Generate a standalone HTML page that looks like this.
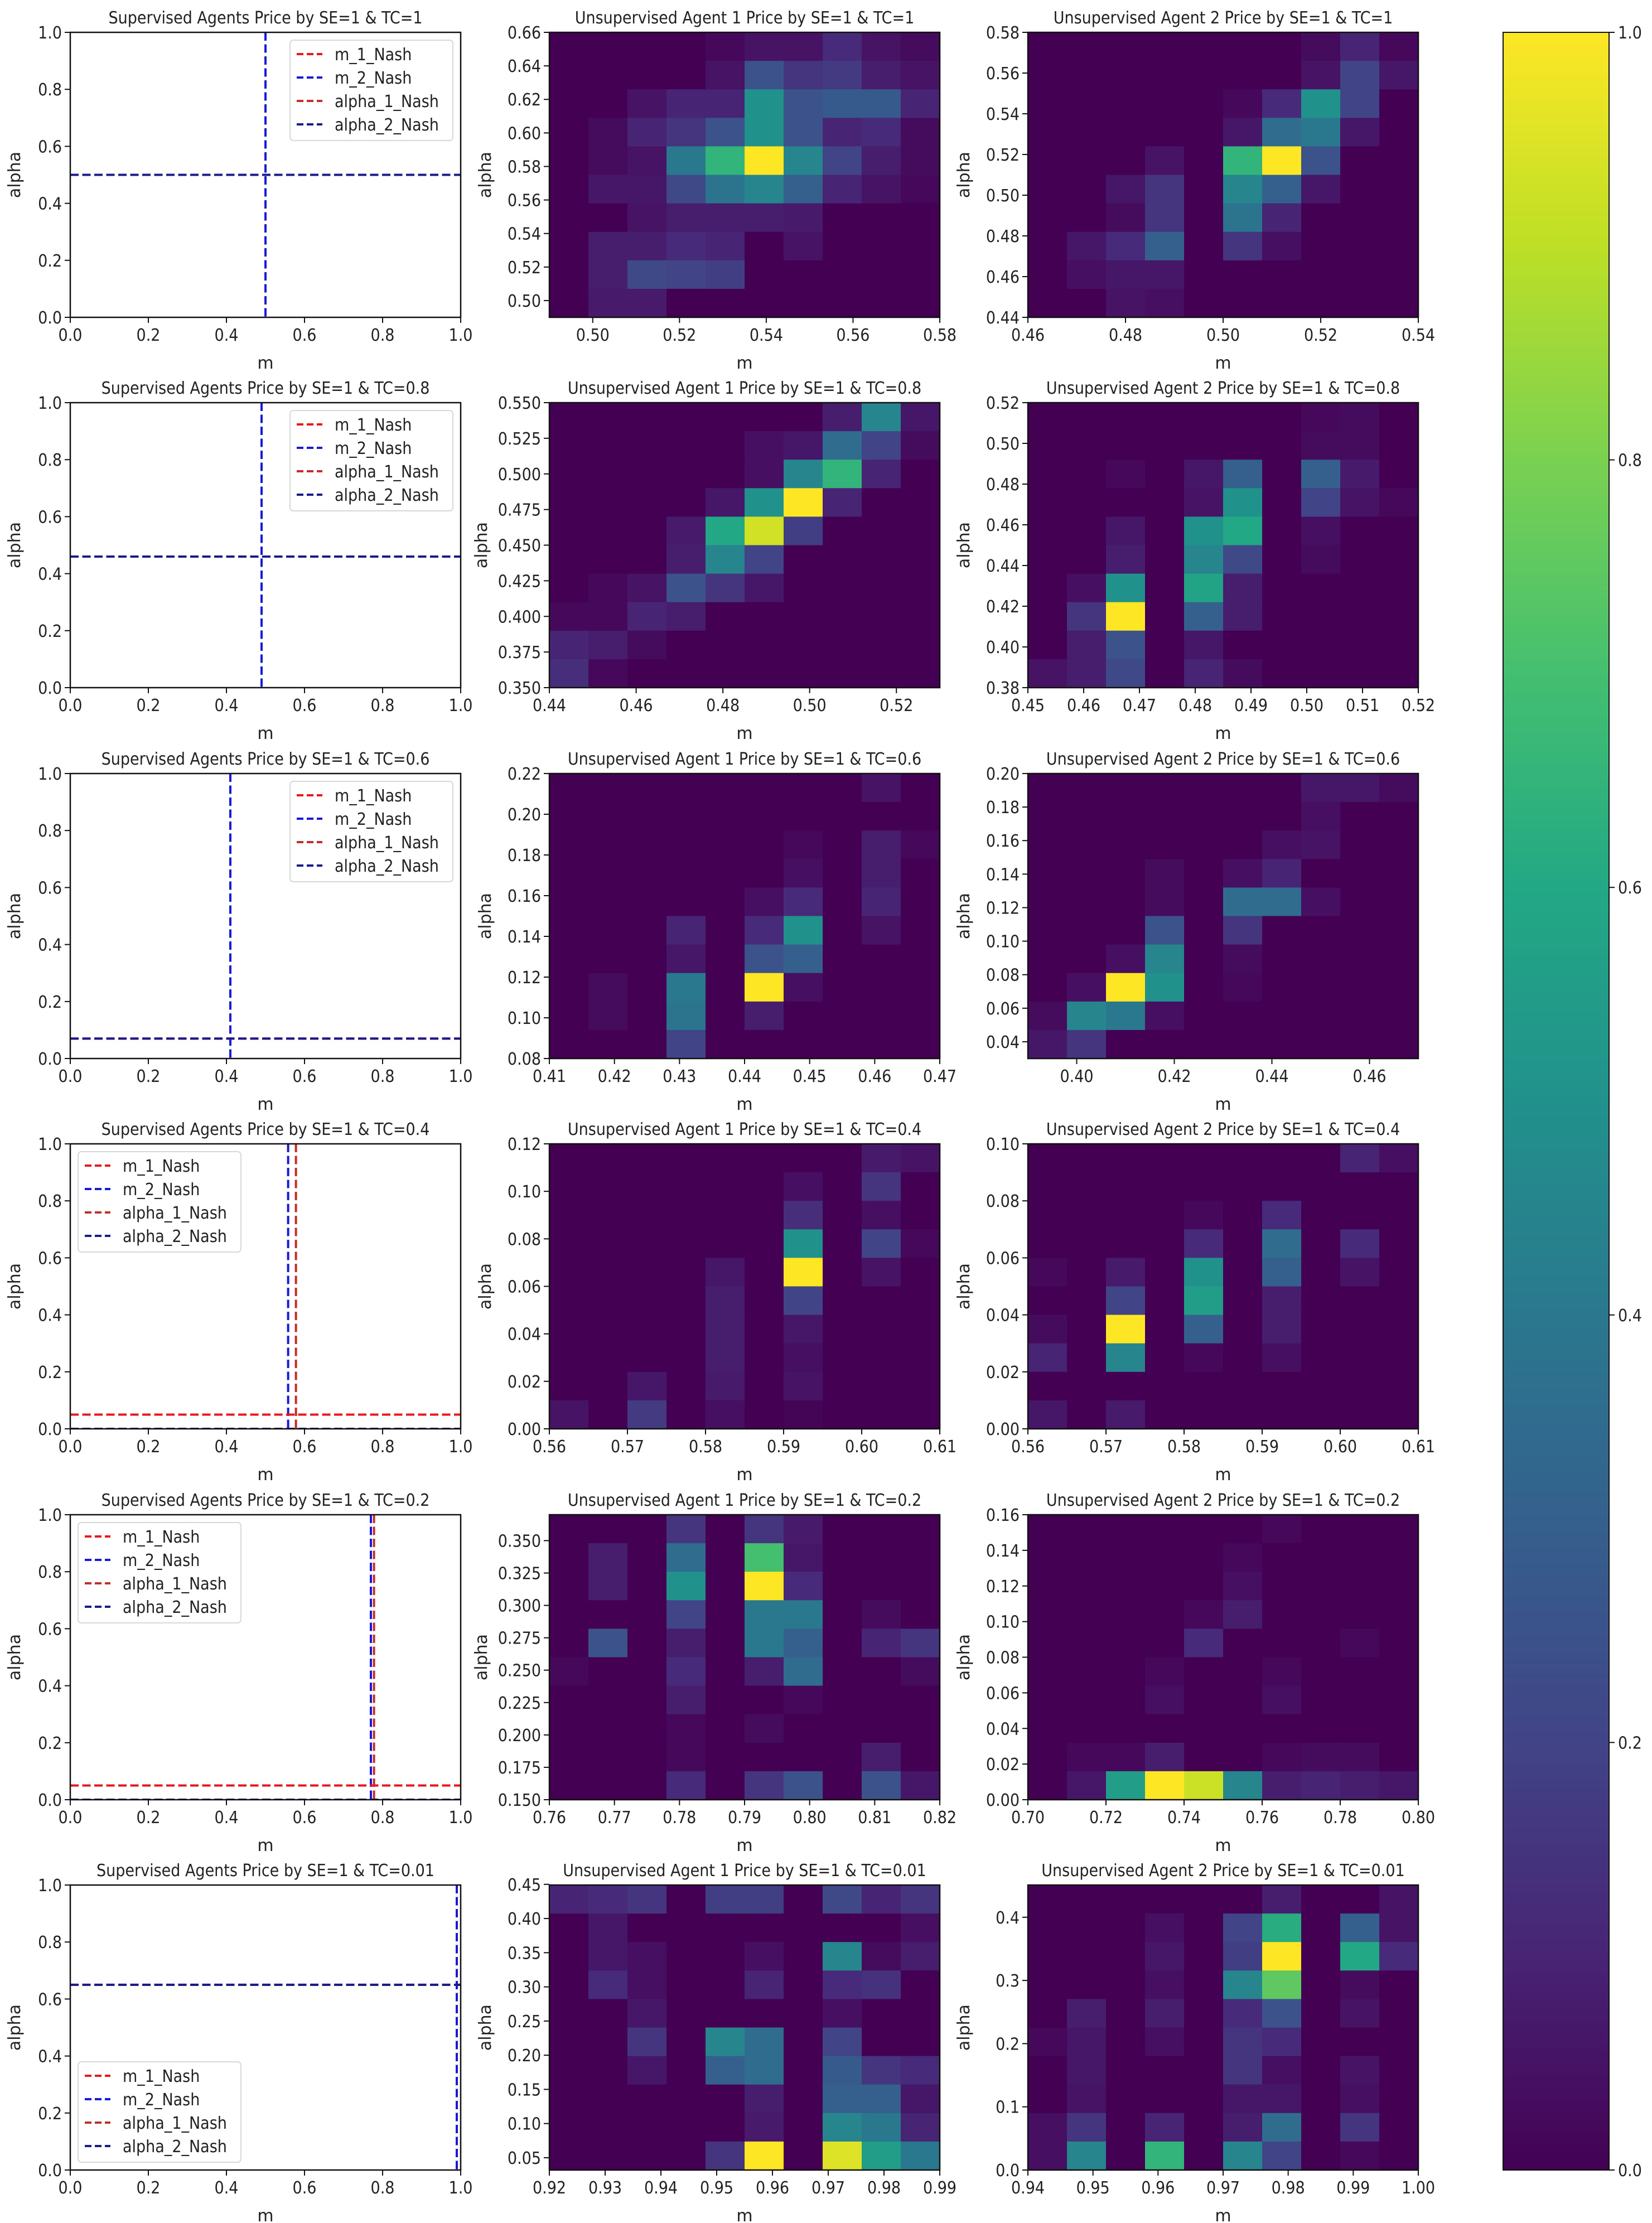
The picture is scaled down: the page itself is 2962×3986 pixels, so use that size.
<!DOCTYPE html>
<html><head><meta charset="utf-8"><title>Price heatmaps</title>
<style>
html,body{margin:0;padding:0;background:#fff;}
svg{display:block;}
.tk{font-family:"DejaVu Sans Condensed","DejaVu Sans","Liberation Sans",sans-serif;font-size:30px;fill:#222;}
.ttl{font-family:"DejaVu Sans Condensed","DejaVu Sans","Liberation Sans",sans-serif;font-size:30px;fill:#222;}
.lab{font-family:"DejaVu Sans","Liberation Sans",sans-serif;font-size:30px;fill:#222;}
</style></head>
<body>
<svg id="fig" xmlns="http://www.w3.org/2000/svg" width="2962" height="3986" viewBox="0 0 2962 3986">
<rect x="0" y="0" width="2962" height="3986" fill="#fff"/>
</svg>
<script>
// ---------- data ----------
const tcLabels = ["1","0.8","0.6","0.4","0.2","0.01"];

// supervised Nash lines: [m_1, m_2] verticals and [alpha_1, alpha_2] horizontals
const supM1 = [0.5, 0.49, 0.41, 0.578, 0.778, 0.99];
const supM2 = [0.5, 0.49, 0.41, 0.558, 0.770, 0.99];
const supA1 = [0.5, 0.46, 0.07, 0.05, 0.05, 0.65];
const supA2 = [0.5, 0.46, 0.07, 0.0, 0.0, 0.65];
const supLegendPos = ["ur","ur","ur","ul","ul","ll"];
const supTicks = [0.0,0.2,0.4,0.6,0.8,1.0];

// heatmap extents [xmin,xmax,ymin,ymax]
const h12_ext=[0.49,0.58,0.49,0.66], h13_ext=[0.46,0.54,0.44,0.58];
const h22_ext=[0.44,0.53,0.35,0.55], h23_ext=[0.45,0.52,0.38,0.52];
const h32_ext=[0.41,0.47,0.08,0.22], h33_ext=[0.39,0.47,0.03,0.20];
const h42_ext=[0.56,0.61,0.0,0.12],  h43_ext=[0.56,0.61,0.0,0.10];
const h52_ext=[0.76,0.82,0.15,0.37], h53_ext=[0.70,0.80,0.0,0.16];
const h62_ext=[0.92,0.99,0.032,0.449], h63_ext=[0.94,1.00,0.0,0.451];

// tick values
const h12_xt=[0.50,0.52,0.54,0.56,0.58], h12_yt=[0.50,0.52,0.54,0.56,0.58,0.60,0.62,0.64,0.66];
const h13_xt=[0.46,0.48,0.50,0.52,0.54], h13_yt=[0.44,0.46,0.48,0.50,0.52,0.54,0.56,0.58];
const h22_xt=[0.44,0.46,0.48,0.50,0.52], h22_yt=[0.350,0.375,0.400,0.425,0.450,0.475,0.500,0.525,0.550];
const h23_xt=[0.45,0.46,0.47,0.48,0.49,0.50,0.51,0.52], h23_yt=[0.38,0.40,0.42,0.44,0.46,0.48,0.50,0.52];
const h32_xt=[0.41,0.42,0.43,0.44,0.45,0.46,0.47], h32_yt=[0.08,0.10,0.12,0.14,0.16,0.18,0.20,0.22];
const h33_xt=[0.40,0.42,0.44,0.46], h33_yt=[0.04,0.06,0.08,0.10,0.12,0.14,0.16,0.18,0.20];
const h42_xt=[0.56,0.57,0.58,0.59,0.60,0.61], h42_yt=[0.00,0.02,0.04,0.06,0.08,0.10,0.12];
const h43_xt=[0.56,0.57,0.58,0.59,0.60,0.61], h43_yt=[0.00,0.02,0.04,0.06,0.08,0.10];
const h52_xt=[0.76,0.77,0.78,0.79,0.80,0.81,0.82], h52_yt=[0.150,0.175,0.200,0.225,0.250,0.275,0.300,0.325,0.350];
const h53_xt=[0.70,0.72,0.74,0.76,0.78,0.80], h53_yt=[0.00,0.02,0.04,0.06,0.08,0.10,0.12,0.14,0.16];
const h62_xt=[0.92,0.93,0.94,0.95,0.96,0.97,0.98,0.99], h62_yt=[0.05,0.10,0.15,0.20,0.25,0.30,0.35,0.40,0.45];
const h63_xt=[0.94,0.95,0.96,0.97,0.98,0.99,1.00], h63_yt=[0.0,0.1,0.2,0.3,0.4];
const xDec=[2,2,2,2,2,2,2,2,2,2,2,2];
const yDec=[2,2,3,2,2,2,2,2,3,2,2,1];

// heatmap values (rows top -> bottom, cols left -> right), normalised 0..1
const h12=[[0,0,0,0,.02,.05,.05,.12,.05,.03],[0,0,0,0,.05,.25,.15,.17,.08,.05],[0,0,.05,.1,.1,.5,.25,.28,.28,.1],[0,.03,.1,.15,.25,.5,.25,.1,.12,.03],[0,.03,.05,.4,.65,1,.45,.2,.08,.03],[0,.06,.06,.22,.38,.45,.3,.1,.05,.02],[0,0,.05,.08,.08,.08,.07,0,0,0],[0,.08,.08,.12,.1,0,.05,0,0,0],[0,.08,.22,.2,.18,0,0,0,0,0],[0,.07,.07,0,0,0,0,0,0,0]];
const h13=[[0,0,0,0,0,0,0,.03,.1,.02],[0,0,0,0,0,0,0,.05,.2,.06],[0,0,0,0,0,.02,.12,.5,.2,0],[0,0,0,0,0,.06,.35,.4,.06,0],[0,0,0,.05,0,.65,1,.25,0,0],[0,0,.06,.15,0,.45,.3,.06,0,0],[0,0,.03,.15,0,.38,.1,0,0,0],[0,.06,.12,.3,0,.15,.04,0,0,0],[0,.04,.06,.06,0,0,0,0,0,0],[0,0,.05,.04,0,0,0,0,0,0]];
const h22=[[0,0,0,0,0,0,0,.08,.45,.06],[0,0,0,0,0,.04,.06,.35,.2,.03],[0,0,0,0,0,.04,.45,.65,.1,0],[0,0,0,0,.06,.5,1,.1,0,0],[0,0,0,.07,.6,.93,.18,0,0,0],[0,0,0,.08,.45,.2,0,0,0,0],[0,.02,.05,.25,.15,.06,0,0,0,0],[.02,.02,.1,.08,0,0,0,0,0,0],[.1,.08,.03,0,0,0,0,0,0,0],[.13,.02,0,0,0,0,0,0,0,0]];
const h23=[[0,0,0,0,0,0,0,.02,.03,0],[0,0,0,0,0,0,0,.03,.03,0],[0,0,.02,0,.06,.3,0,.3,.07,0],[0,0,0,0,.05,.5,0,.2,.05,.02],[0,0,.06,0,.5,.6,0,.04,0,0],[0,0,.08,0,.45,.22,0,.03,0,0],[0,.04,.5,0,.58,.08,0,0,0,0],[0,.15,1,0,.3,.08,0,0,0,0],[0,.08,.25,0,.06,0,0,0,0,0],[.05,.08,.22,0,.1,.03,0,0,0,0]];
const h32=[[0,0,0,0,0,0,0,0,.05,0],[0,0,0,0,0,0,0,0,0,0],[0,0,0,0,0,0,.02,0,.08,.02],[0,0,0,0,0,0,.04,0,.08,0],[0,0,0,0,0,.04,.12,0,.1,0],[0,0,0,.1,0,.12,.5,0,.05,0],[0,0,0,.06,0,.25,.3,0,0,0],[0,.03,0,.4,0,1,.04,0,0,0],[0,.03,0,.38,0,.08,0,0,0,0],[0,0,0,.2,0,0,0,0,0,0]];
const h33=[[0,0,0,0,0,0,0,.06,.06,.03],[0,0,0,0,0,0,0,.04,0,0],[0,0,0,0,0,0,.04,.05,0,0],[0,0,0,.03,0,.04,.1,0,0,0],[0,0,0,.03,0,.35,.35,.04,0,0],[0,0,0,.25,0,.15,0,0,0,0],[0,0,.04,.45,0,.03,0,0,0,0],[0,.04,1,.5,0,.02,0,0,0,0],[.03,.45,.4,.04,0,0,0,0,0,0],[.06,.15,0,0,0,0,0,0,0,0]];
const h42=[[0,0,0,0,0,0,0,0,.07,.05],[0,0,0,0,0,0,.04,0,.15,0],[0,0,0,0,0,0,.13,0,.04,0],[0,0,0,0,0,0,.5,0,.2,.02],[0,0,0,0,.06,0,1,0,.05,0],[0,0,0,0,.08,0,.2,0,0,0],[0,0,0,0,.08,0,.06,0,0,0],[0,0,0,0,.08,0,.04,0,0,0],[0,0,.06,0,.07,0,.05,0,0,0],[.05,0,.17,0,.04,0,.01,0,0,0]];
const h43=[[0,0,0,0,0,0,0,0,.1,.04],[0,0,0,0,0,0,0,0,0,0],[0,0,0,0,.02,0,.12,0,0,0],[0,0,0,0,.12,0,.35,0,.12,0],[.02,0,.07,0,.5,0,.3,0,.05,0],[0,0,.2,0,.55,0,.08,0,0,0],[.03,0,1,0,.3,0,.08,0,0,0],[.1,0,.45,0,.02,0,.04,0,0,0],[0,0,0,0,0,0,0,0,0,0],[.06,0,.07,0,0,0,0,0,0,0]];
const h52=[[0,0,0,.15,0,.15,.07,0,0,0],[0,.08,0,.35,0,.7,.06,0,0,0],[0,.08,0,.5,0,1,.12,0,0,0],[0,0,0,.2,0,.4,.4,0,.03,0],[0,.25,0,.08,0,.4,.3,0,.1,.15],[.02,0,0,.12,0,.08,.35,0,0,.03],[0,0,0,.08,0,0,.02,0,0,0],[0,0,0,.02,0,.03,0,0,0,0],[0,0,0,.02,0,0,0,0,.08,0],[0,0,0,.12,0,.15,.25,0,.25,.06]];
const h53=[[0,0,0,0,0,0,.02,0,0,0],[0,0,0,0,0,.02,0,0,0,0],[0,0,0,0,0,.04,0,0,0,0],[0,0,0,0,.02,.08,0,0,0,0],[0,0,0,0,.12,0,0,0,.02,0],[0,0,0,.02,0,0,.02,0,0,0],[0,0,0,.04,0,0,.04,0,0,0],[0,0,0,0,0,0,0,0,0,0],[0,.02,.02,.08,0,0,.02,.03,.03,0],[0,.06,.55,1,.92,.45,.08,.1,.08,.06]];
const h62=[[.1,.12,.15,0,.18,.18,0,.22,.1,.15],[0,.06,0,0,0,0,0,0,0,.04],[0,.06,.04,0,0,.04,0,.45,.03,.08],[0,.12,.04,0,0,.1,0,.12,.14,0],[0,0,.06,0,0,0,0,.04,0,0],[0,0,.15,0,.45,.35,0,.2,0,0],[0,0,.06,0,.3,.35,0,.28,.15,.12],[0,0,0,0,0,.08,0,.3,.3,.06],[0,0,0,0,0,.07,0,.45,.4,.1],[0,0,0,0,.15,1,0,.95,.55,.4]];
const h63=[[0,0,0,0,0,0,.08,0,0,.05],[0,0,0,.04,0,.2,.62,0,.3,.05],[0,0,0,.06,0,.18,1,0,.6,.12],[0,0,0,.04,0,.45,.75,0,.03,0],[0,.08,0,.08,0,.12,.25,0,.05,0],[.02,.06,0,.04,0,.15,.12,0,0,0],[0,.06,0,0,0,.15,.04,0,.05,0],[0,.05,0,0,0,.06,.06,0,.04,0],[.04,.15,0,.1,0,.08,.35,0,.15,0],[.04,.45,0,.65,0,.45,.2,0,.02,0]];
const cbTicks=[0.0,0.2,0.4,0.6,0.8,1.0];

// ---------- layout ----------
const COLS=[126,985,1843], PW=700, ROWS=[58,722,1387,2051,2716,3380], PH=511;
const NS="http://www.w3.org/2000/svg";
const svg=document.getElementById('fig');
function mk(tag, attrs, parent){const e=document.createElementNS(NS,tag);for(const k in attrs)e.setAttribute(k,attrs[k]);(parent||svg).appendChild(e);return e;}
const VIR=[[68,1,84],[72,36,117],[65,68,135],[53,95,141],[42,120,142],[33,145,140],[34,168,132],[68,191,112],[122,209,81],[189,223,38],[253,231,37]];
function viridis(t){t=Math.max(0,Math.min(1,t));const f=t*10,i=Math.min(9,Math.floor(f)),u=f-i;const a=VIR[i],b=VIR[i+1];
 return 'rgb('+a.map((v,k)=>Math.round(v+(b[k]-v)*u)).join(',')+')';}

function axesFrame(g,x0,y0,name){
 const r=mk('rect',{x:x0,y:y0,width:PW,height:PH,fill:'none',stroke:'#111','stroke-width':2.5},g);
 
 
}
function xTicks(g,x0,y0,xs,vals,dec,name){
 vals.forEach(v=>{const px=xs(v);
  const t=mk('line',{x1:px,y1:y0+PH,x2:px,y2:y0+PH+10,stroke:'#111','stroke-width':2},g);
  
  
  const l=mk('text',{x:px,y:y0+PH+42,'text-anchor':'middle',class:'tk'},g);l.textContent=v.toFixed(dec);
  
  });
 const xl=mk('text',{x:x0+PW/2,y:y0+PH+92,'text-anchor':'middle',class:'lab'},g);xl.textContent='m';
 
 
}
function yTicks(g,x0,y0,ys,vals,dec,name,off){
 vals.forEach(v=>{const py=ys(v);
  const t=mk('line',{x1:x0-10,y1:py,x2:x0,y2:py,stroke:'#111','stroke-width':2},g);
  
  
  const l=mk('text',{x:x0-15,y:py+11,'text-anchor':'end',class:'tk'},g);l.textContent=v.toFixed(dec);
  
  });
 const cx=x0-off, cy=y0+PH/2;
 const yl=mk('text',{x:cx,y:cy,'text-anchor':'middle',class:'lab',transform:'rotate(-90 '+cx+' '+cy+')'},g);yl.textContent='alpha';
 
 
}
function title(g,x0,y0,txt,name){
 const t=mk('text',{x:x0+PW/2,y:y0-16,'text-anchor':'middle',class:'ttl'},g);t.textContent=txt;
 
 
}

// ---------- supervised panels ----------
const legNames=['m_1_Nash','m_2_Nash','alpha_1_Nash','alpha_2_Nash'];
const legCols=['#e8191c','#1a1ad6','#c0302a','#1a1a8a'];
for(let r=0;r<6;r++){
 const x0=COLS[0],y0=ROWS[r];
 const g=mk('g',{});
 
 
 const xs=v=>x0+v*PW, ys=v=>y0+PH-v*PH;
 const clip=mk('clipPath',{id:'sc'+r},g);mk('rect',{x:x0,y:y0,width:PW,height:PH},clip);
 const lg=mk('g',{'clip-path':'url(#sc'+r+')'},g);
 const l1=mk('line',{x1:xs(supM1[r]),y1:y0,x2:xs(supM1[r]),y2:y0+PH,stroke:legCols[2],'stroke-width':4,'stroke-dasharray':'15 6.5'},lg);
 
 
 const l2=mk('line',{x1:xs(supM2[r]),y1:y0,x2:xs(supM2[r]),y2:y0+PH,stroke:legCols[1],'stroke-width':4,'stroke-dasharray':'15 6.5'},lg);
 
 
 const l3=mk('line',{x1:x0,y1:ys(supA1[r]),x2:x0+PW,y2:ys(supA1[r]),stroke:legCols[0],'stroke-width':4,'stroke-dasharray':'15 6.5'},lg);
 
 
 const l4=mk('line',{x1:x0,y1:ys(supA2[r]),x2:x0+PW,y2:ys(supA2[r]),stroke:legCols[3],'stroke-width':4,'stroke-dasharray':'15 6.5'},lg);
 
 
 axesFrame(g,x0,y0,'supervised');
 xTicks(g,x0,y0,xs,supTicks,1,'supervised');
 yTicks(g,x0,y0,ys,supTicks,1,'supervised',90);
 title(g,x0,y0,'Supervised Agents Price by SE=1 & TC='+tcLabels[r],'supervised');
 // legend
 const lw=292,lh=180,pos=supLegendPos[r];
 const lx=pos==='ur'?x0+PW-lw-14:x0+14, ly=pos==='ll'?y0+PH-lh-14:y0+14;
 const leg=mk('g',{},g);
 
 
 mk('rect',{x:lx,y:ly,width:lw,height:lh,rx:6,fill:'#fff','fill-opacity':0.85,stroke:'#d8d8d8','stroke-width':2},leg);
 legNames.forEach((n,i)=>{const cy=ly+25+i*42;
  const ll=mk('line',{x1:lx+12,y1:cy,x2:lx+58,y2:cy,stroke:legCols[i],'stroke-width':4,'stroke-dasharray':'12 6'},leg);
  
  
  const t=mk('text',{x:lx+80,y:cy+11,class:'tk'},leg);t.textContent=n;
  
  });
}

// ---------- heatmaps ----------
const HM=[[h12,h12_ext,h12_xt,h12_yt],[h13,h13_ext,h13_xt,h13_yt],[h22,h22_ext,h22_xt,h22_yt],[h23,h23_ext,h23_xt,h23_yt],
 [h32,h32_ext,h32_xt,h32_yt],[h33,h33_ext,h33_xt,h33_yt],[h42,h42_ext,h42_xt,h42_yt],[h43,h43_ext,h43_xt,h43_yt],
 [h52,h52_ext,h52_xt,h52_yt],[h53,h53_ext,h53_xt,h53_yt],[h62,h62_ext,h62_xt,h62_yt],[h63,h63_ext,h63_xt,h63_yt]];
HM.forEach((h,k)=>{
 const r=Math.floor(k/2), agent=k%2+1, x0=COLS[agent], y0=ROWS[r];
 const [mat,ext,xt,yt]=h;
 const g=mk('g',{});
 
 
 const xs=v=>x0+(v-ext[0])/(ext[1]-ext[0])*PW, ys=v=>y0+PH-(v-ext[2])/(ext[3]-ext[2])*PH;
 const nr=mat.length, nc=mat[0].length;
 const dx=(ext[1]-ext[0])/nc, dy=(ext[3]-ext[2])/nr;
 mat.forEach((row,i)=>row.forEach((v,j)=>{
  const xa=xs(ext[0]+j*dx), xb=xs(ext[0]+(j+1)*dx);
  const ya=ys(ext[3]-i*dy), yb=ys(ext[3]-(i+1)*dy);
  const c=mk('rect',{x:xa,y:ya,width:xb-xa+0.6,height:yb-ya+0.6,fill:viridis(v)},g);
  
  
 }));
 axesFrame(g,x0,y0,'heatmap');
 xTicks(g,x0,y0,xs,xt,xDec[k],'heatmap');
 yTicks(g,x0,y0,ys,yt,yDec[k],'heatmap',yDec[k]===3?112:105);
 title(g,x0,y0,'Unsupervised Agent '+agent+' Price by SE=1 & TC='+tcLabels[r],'heatmap');
});

// ---------- colorbar ----------
const cbx=2695,cbw=190,cby=58,cbh=3891-58;
const defs=mk('defs',{});
const grad=mk('linearGradient',{id:'vir',x1:0,y1:1,x2:0,y2:0},defs);
VIR.forEach((c,i)=>mk('stop',{offset:(i*10)+'%','stop-color':'rgb('+c.join(',')+')'},grad));
const cb=mk('g',{});


const cbr=mk('rect',{x:cbx,y:cby,width:cbw,height:cbh,fill:'url(#vir)',stroke:'#111','stroke-width':2},cb);


cbTicks.forEach(v=>{const py=cby+cbh-v*cbh;
 const t=mk('line',{x1:cbx+cbw,y1:py,x2:cbx+cbw+10,y2:py,stroke:'#111','stroke-width':2},cb);
 
 
 const l=mk('text',{x:cbx+cbw+16,y:py+11,class:'tk'},cb);l.textContent=v.toFixed(1);
 
 });
</script>
</body></html>
